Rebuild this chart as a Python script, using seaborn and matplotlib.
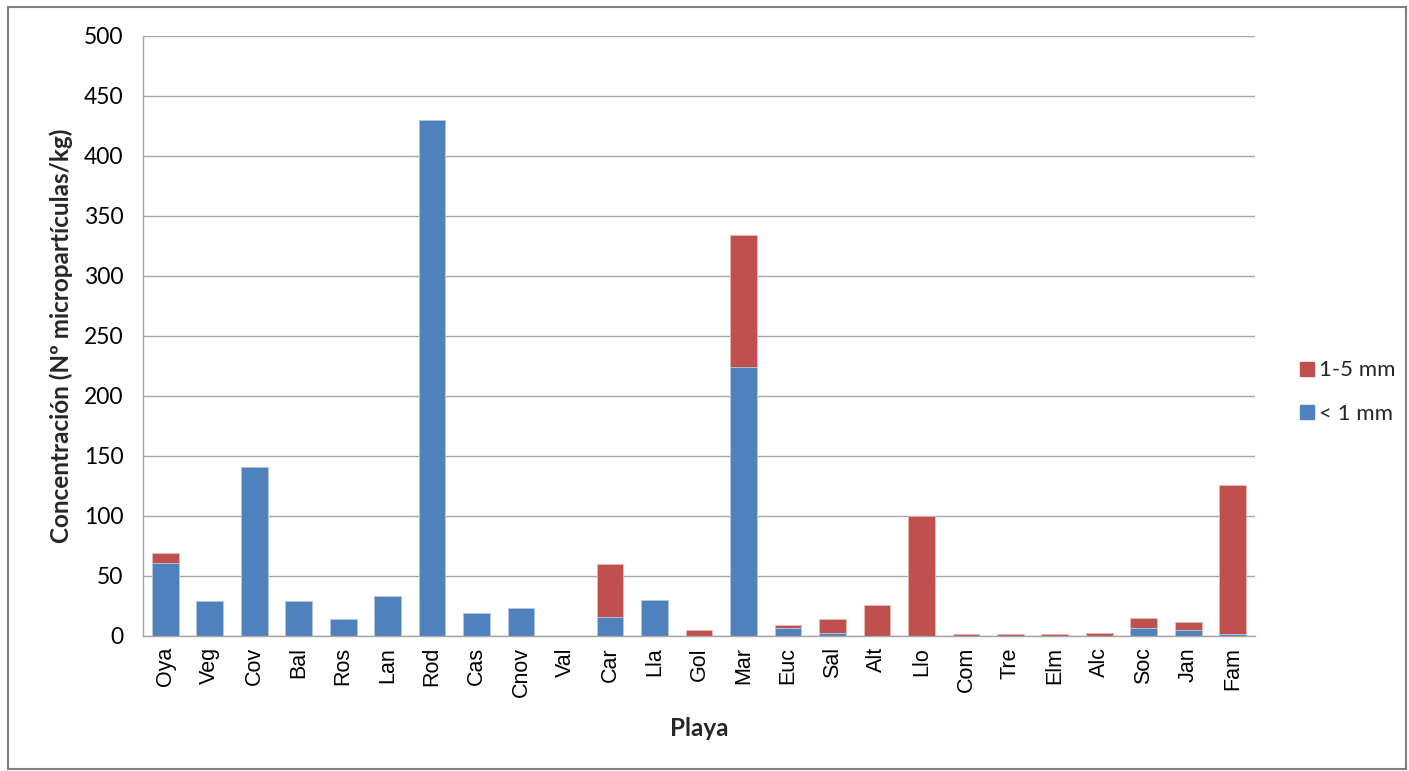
import matplotlib
matplotlib.use("Agg")
import matplotlib.pyplot as plt
import seaborn as sns
import pandas as pd
from matplotlib.patches import Rectangle
from matplotlib.lines import Line2D

# Beach codes and particle concentrations (Nº micropartículas/kg) per size class
playas = ["Oya", "Veg", "Cov", "Bal", "Ros", "Lan", "Rod", "Cas", "Cnov", "Val",
          "Car", "Lla", "Gol", "Mar", "Euc", "Sal", "Alt", "Llo", "Com", "Tre",
          "Elm", "Alc", "Soc", "Jan", "Fam"]
menor_1mm = [61, 29, 141, 29, 14, 33, 430, 19.5, 23.5, 0,
             16, 30, 0, 224, 7, 2.5, 0, 0, 0, 0,
             0, 0, 6.5, 5.3, 1.5]
entre_1_5mm = [8, 0, 0, 0, 0, 0, 0, 0, 0, 0,
               44, 0, 5, 110, 2, 11.5, 26, 100, 1.5, 1.5,
               1.5, 2.5, 8.5, 6.2, 124]

AZUL = "#4F81BD"
ROJO = "#C0504D"
GRIS = "#A6A6A6"

df = pd.DataFrame({"Playa": playas, "<1": menor_1mm, "1-5": entre_1_5mm})
df["total"] = df["<1"] + df["1-5"]

sns.set_theme(style="white")
plt.rcParams["font.family"] = ["Lato", "DejaVu Sans"]

fig = plt.figure(figsize=(14.09, 7.71), dpi=100)
ax = fig.add_axes([143 / 1409, 1 - 636 / 771, (1255 - 143) / 1409, 600 / 771])

# Stacked bars: full height in red, the lower class in blue drawn over it
sns.barplot(data=df, x="Playa", y="total", color=ROJO, saturation=1, width=0.6,
            edgecolor="#E6B9B8", linewidth=0.6, ax=ax)
sns.barplot(data=df, x="Playa", y="<1", color=AZUL, saturation=1, width=0.6,
            edgecolor="#B9CDE5", linewidth=0.6, ax=ax)

ax.set_ylim(0, 500)
ax.set_xlim(-0.5, len(playas) - 0.5)
ax.set_yticks(range(0, 501, 50))
ax.yaxis.grid(True, color=GRIS, linewidth=1.0)
ax.set_axisbelow(True)

# Category boundaries carry the x tick marks; labels sit at the centres
ax.set_xticks(range(len(playas)))
ax.set_xticklabels(playas, rotation=90, fontsize=15.5, color="#000000",
                   family=["Liberation Sans", "DejaVu Sans"])
ax.set_xticks([i - 0.5 for i in range(len(playas) + 1)], minor=True)
ax.tick_params(axis="x", which="major", length=0, pad=8)
ax.tick_params(axis="x", which="minor", length=6, width=1, color=GRIS, direction="out")
ax.tick_params(axis="y", length=6, width=1, color=GRIS, direction="out",
               labelsize=16.5, labelcolor="#000000", pad=8)

for side in ["top", "right"]:
    ax.spines[side].set_visible(False)
for side in ["left", "bottom"]:
    ax.spines[side].set_color(GRIS)
    ax.spines[side].set_linewidth(1.0)

ax.set_xlabel("Playa", fontsize=17.5, fontweight="bold", labelpad=14)
ax.set_ylabel("Concentración (Nº micropartículas/kg)", fontsize=17.5,
              fontweight="bold", labelpad=8)

handles = [Line2D([], [], marker="s", linestyle="none", markersize=10, color=ROJO),
           Line2D([], [], marker="s", linestyle="none", markersize=10, color=AZUL)]
fig.legend(handles, ["1-5 mm", "< 1 mm"], loc="center left",
           bbox_to_anchor=(1296 / 1409, 1 - 392 / 771), frameon=False,
           fontsize=16, handletextpad=0.05, labelspacing=1.05, handlelength=1.0,
           borderpad=0, borderaxespad=0)

# Outer chart frame
fig.patches.append(Rectangle((8 / 1409, 2 / 771), 1398 / 1409, 762 / 771,
                             transform=fig.transFigure, fill=False,
                             edgecolor="#7F7F7F", linewidth=1.5))

fig.savefig("out.png", dpi=100)
